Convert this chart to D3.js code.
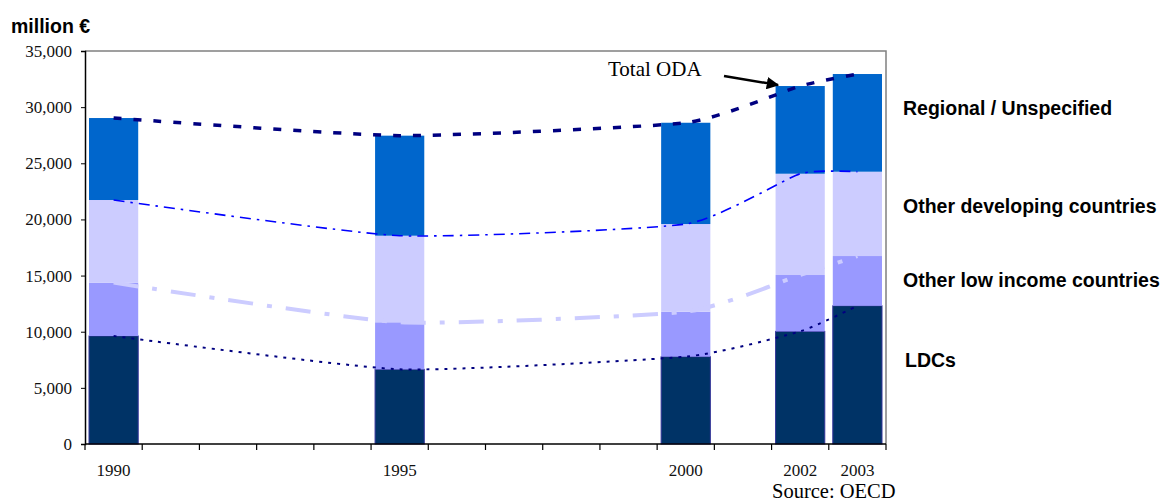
<!DOCTYPE html>
<html><head><meta charset="utf-8">
<script src="https://cdn.jsdelivr.net/npm/d3@7"></script>
<style>
html,body{margin:0;padding:0;background:#fff;}
svg{display:block;}
</style></head>
<body>
<svg id="chart" width="1163" height="504"></svg>
<script>
// ---- data ----
const allYears = [1990,1991,1992,1993,1994,1995,1996,1997,1998,1999,2000,2001,2002,2003];
const labelYears = [1990,1995,2000,2002,2003];
const dataYears = [1990,1995,2000,2002,2003];
const ldc        = [9620, 6650, 7780, 10030, 12310];
const otherLow   = [4750, 4190, 4000, 5020, 4430];
const otherDev   = [7360, 7710, 7810, 9020, 7510];
const regional   = [7300, 8910, 9020, 7810, 8700];
const seriesNames = ["LDCs","Other low income countries","Other developing countries","Regional / Unspecified"];
const yTicks = [0,5000,10000,15000,20000,25000,30000,35000];

const colors = ["#003366","#9999FF","#CCCCFF","#0066CC"];

const svg = d3.select("#chart");
const L = 85, R = 886, T = 51, B = 444;

const x = d3.scaleBand().domain(allYears).range([L,R]).paddingInner(0.14).paddingOuter(0.07);
const y = d3.scaleLinear().domain([0,35000]).range([B,T]);

const rows = dataYears.map((yr,i)=>({year:yr, s0:ldc[i], s1:otherLow[i], s2:otherDev[i], s3:regional[i]}));
const stack = d3.stack().keys(["s0","s1","s2","s3"])(rows);

// bars
stack.forEach((layer,k)=>{
  svg.append("g").selectAll("rect").data(layer).join("rect")
    .attr("x", d=>x(d.data.year))
    .attr("width", x.bandwidth())
    .attr("y", d=>y(d[1]))
    .attr("height", d=>y(d[0])-y(d[1]))
    .attr("fill", colors[k])
    .attr("stroke", k===0 ? "#333399" : "none")
    .attr("stroke-width", k===0 ? 1 : 0);
});

// frame (top & right gray)
svg.append("path").attr("d",`M${L},${T}H${R}V${B}`).attr("fill","none").attr("stroke","#808080").attr("stroke-width",1.5);

// y axis
const yAxis = svg.append("g").attr("transform",`translate(${L},0)`)
  .call(d3.axisLeft(y).tickValues(yTicks).tickSize(4).tickFormat(d3.format(",")));
yAxis.select(".domain").attr("stroke","#000").attr("stroke-width",1.5);
yAxis.selectAll(".tick line").attr("stroke","#000");
yAxis.selectAll("text").attr("font-family","'Liberation Serif','Times New Roman',serif").attr("font-size",17).attr("fill","#111").attr("x",-13);

// x axis line and slot ticks
const step = x.step();
svg.append("line").attr("x1",L).attr("x2",R).attr("y1",B).attr("y2",B).attr("stroke","#000").attr("stroke-width",1.5);
const bounds = allYears.map(yr => x(yr) - step*x.paddingInner()/2).concat([R]);
svg.append("g").selectAll("line").data(bounds).join("line")
  .attr("x1",d=>d).attr("x2",d=>d).attr("y1",B).attr("y2",B+6)
  .attr("stroke","#000").attr("stroke-width",1.2);
svg.append("g").selectAll("text").data(labelYears).join("text")
  .attr("x",d=>x(d)+x.bandwidth()/2).attr("y",476)
  .attr("text-anchor","middle")
  .attr("font-family","'Liberation Serif','Times New Roman',serif").attr("font-size",17).attr("fill","#111")
  .text(d=>d);

// lines
const lineStyles = [
  {stroke:"#000080", width:2, dash:"3,6"},
  {stroke:"#CCCCFF", width:4, dash:"25,14,5,14"},
  {stroke:"#0000FF", width:1.6, dash:"11,6,2.5,6"},
  {stroke:"#000080", width:3.5, dash:"8,12"}
];
const line = d3.line().x(d=>x(d.data.year)+x.bandwidth()/2).y(d=>y(d[1])).curve(d3.curveCardinal.tension(0.5));
stack.forEach((layer,k)=>{
  const st = lineStyles[k];
  svg.append("path").datum(layer).attr("d",line)
    .attr("fill","none").attr("stroke",st.stroke).attr("stroke-width",st.width)
    .attr("stroke-dasharray",st.dash);
});

// labels
svg.append("text").attr("x",11).attr("y",33).attr("font-family","'Liberation Sans',Arial,sans-serif")
  .attr("font-weight","bold").attr("font-size",19.5).text("million €");

const labelY = [367, 286.5, 213, 115];
seriesNames.forEach((n,i)=>{
  svg.append("text").attr("x", i===0 ? 905 : 903).attr("y",labelY[i])
    .attr("font-family","'Liberation Sans',Arial,sans-serif").attr("font-weight","bold")
    .attr("font-size",19.5).attr("fill","#000").text(n);
});

svg.append("text").attr("x",608).attr("y",76).attr("font-family","'Liberation Serif','Times New Roman',serif")
  .attr("font-size",21).attr("fill","#000").text("Total ODA");

// arrow
svg.append("defs").append("marker").attr("id","ah").attr("viewBox","0 0 10 10").attr("refX",9).attr("refY",5)
  .attr("markerWidth",5).attr("markerHeight",5).attr("markerUnits","strokeWidth").attr("orient","auto")
  .append("path").attr("d","M0,0L10,5L0,10z").attr("fill","#000");
svg.append("line").attr("x1",724).attr("y1",76).attr("x2",778).attr("y2",85)
  .attr("stroke","#000").attr("stroke-width",2.5).attr("marker-end","url(#ah)");

svg.append("text").attr("x",772).attr("y",498).attr("font-family","'Liberation Serif','Times New Roman',serif")
  .attr("font-size",20.5).attr("fill","#000").text("Source: OECD");
</script>
</body></html>
